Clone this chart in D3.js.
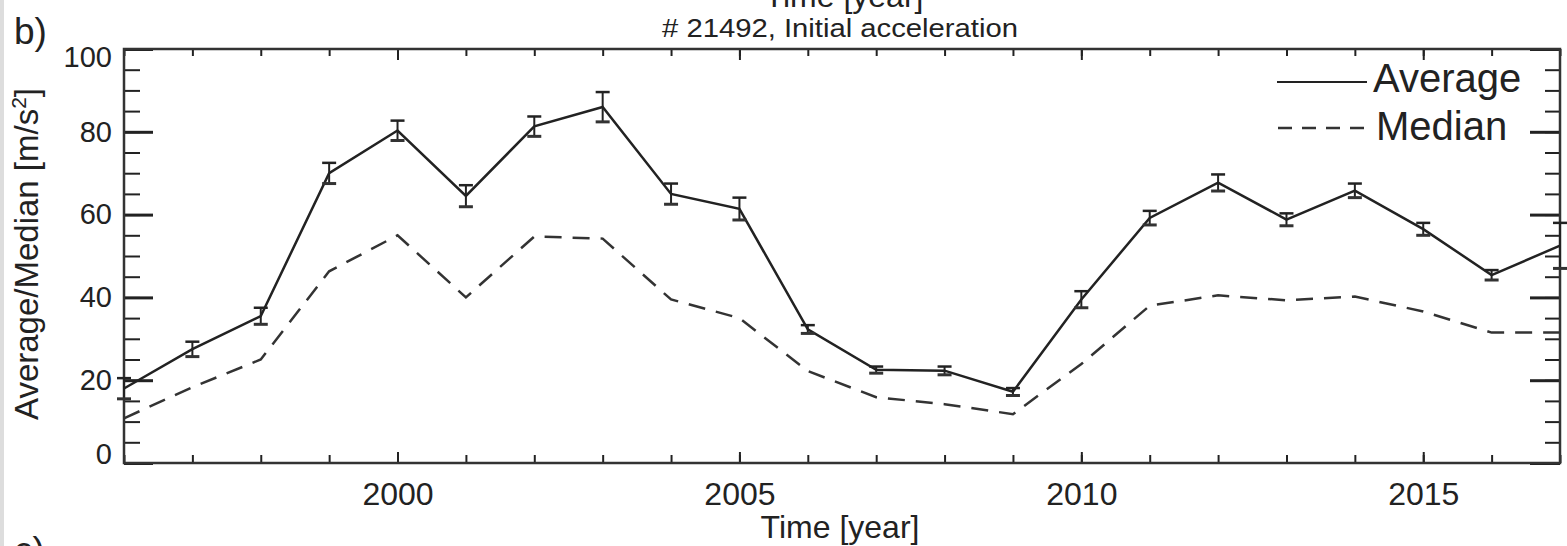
<!DOCTYPE html>
<html><head><meta charset="utf-8">
<script src="https://cdn.jsdelivr.net/npm/d3@7"></script>
<style>
html,body{margin:0;padding:0;background:#fff;}
svg{display:block;}
text{font-family:"Liberation Sans",Arial,Helvetica,sans-serif;fill:#222;}
</style></head>
<body>
<svg id="chart" width="1567" height="546"></svg>
<script>
const years = [1996,1997,1998,1999,2000,2001,2002,2003,2004,2005,2006,2007,2008,2009,2010,2011,2012,2013,2014,2015,2016,2017];
const average = [18,27.5,35.5,70,80.3,64.5,81.3,86,65,61.4,32.3,22.5,22.3,17.2,39.5,59.2,67.7,58.8,65.8,56.5,45.4,52.5];
const averageErr = [2.5,1.8,2,2.5,2.4,2.6,2.4,3.6,2.5,2.7,1,0.8,1,0.9,2,1.7,2,1.5,1.7,1.5,1.2,5.5];
const median = [10.8,18.3,25,46.3,55,40,54.7,54.2,39.5,35,22.2,15.9,14.2,11.8,23.9,38,40.5,39.3,40.2,36.6,31.5,31.5];
const yMajor = [0,20,40,60,80,100];
const yMinor = d3.range(0,101,5);
const xMajor = [2000,2005,2010,2015];
const xMinor = d3.range(1996,2018,1);
const legendLabels = ["Average","Median"];

const svg = d3.select("#chart");
const L=124, R=1560, T=49, B=463;
const x = d3.scaleLinear().domain([1996,2017]).range([L,R]);
const y = d3.scaleLinear().domain([0,100]).range([B,T]);
const ink = "#222";

// left gray stripe
svg.append("rect").attr("x",0).attr("y",0).attr("width",4).attr("height",546).attr("fill","#ddd");

// upper title (clipped by the picture edge, as in the reference)
svg.append("text").attr("x",844).attr("y",7).attr("text-anchor","middle").style("font-size","32px").text("Time [year]");
// title
svg.append("text").attr("x",840).attr("y",37).attr("text-anchor","middle").style("font-size","26px")
  .attr("textLength",356).attr("lengthAdjust","spacingAndGlyphs").text("# 21492, Initial acceleration");
// panel letters
svg.append("text").attr("x",14).attr("y",44).style("font-size","37px").text("b)");
svg.append("text").attr("x",14).attr("y",563).style("font-size","37px").text("c)");

function styleTicks(g, w){ g.select(".domain").remove(); g.selectAll("line").attr("stroke",ink).attr("stroke-width",w); }
// y axis left/right
svg.append("g").attr("transform",`translate(${L},0)`).call(d3.axisLeft(y).tickValues(yMinor).tickSize(-16).tickFormat("")).call(g=>styleTicks(g,2));
svg.append("g").attr("transform",`translate(${R},0)`).call(d3.axisRight(y).tickValues(yMinor).tickSize(-15).tickFormat("")).call(g=>styleTicks(g,2));
svg.append("g").attr("transform",`translate(${R},0)`).call(d3.axisRight(y).tickValues(yMajor).tickSize(-30).tickFormat("")).call(g=>styleTicks(g,3));
const yl = svg.append("g").attr("transform",`translate(${L},0)`).call(d3.axisLeft(y).tickValues(yMajor).tickSize(-29).tickPadding(12));
styleTicks(yl,3);
yl.selectAll("text").style("font-size","29px").attr("fill",ink).style("font-family",'"Liberation Sans",Arial,sans-serif')
  .attr("dy",d=> d===100 ? "0.62em" : d===0 ? "0em" : "0.32em");
// x axis bottom/top
svg.append("g").attr("transform",`translate(0,${B})`).call(d3.axisBottom(x).tickValues(xMinor).tickSize(-8).tickFormat("")).call(g=>styleTicks(g,2));
svg.append("g").attr("transform",`translate(0,${T})`).call(d3.axisTop(x).tickValues(xMinor).tickSize(-7).tickFormat("")).call(g=>styleTicks(g,2));
svg.append("g").attr("transform",`translate(0,${T})`).call(d3.axisTop(x).tickValues(xMajor).tickSize(-11).tickFormat("")).call(g=>styleTicks(g,2));
const xl = svg.append("g").attr("transform",`translate(0,${B})`).call(d3.axisBottom(x).tickValues(xMajor).tickSize(-11).tickPadding(19).tickFormat(d3.format("d")));
styleTicks(xl,2);
xl.selectAll("text").style("font-size","32px").attr("fill",ink).style("font-family",'"Liberation Sans",Arial,sans-serif');
svg.append("rect").attr("x",L).attr("y",T).attr("width",R-L).attr("height",B-T).attr("fill","none").attr("stroke","#333").attr("stroke-width",2.5);

// axis titles
svg.append("text").attr("x",840).attr("y",538).attr("text-anchor","middle").style("font-size","32px").text("Time [year]");
const yt = svg.append("text").attr("transform","translate(38,254) rotate(-90)").attr("text-anchor","middle").style("font-size","33px");
yt.append("tspan").text("Average/Median [m/s");
yt.append("tspan").attr("dy",-12).style("font-size","21px").text("2");
yt.append("tspan").attr("dy",12).text("]");

// data
const data = years.map((yr,i)=>({yr,a:average[i],e:averageErr[i],m:median[i]}));
const lineA = d3.line().x(d=>x(d.yr)).y(d=>y(d.a));
const lineM = d3.line().x(d=>x(d.yr)).y(d=>y(d.m));
svg.append("path").datum(data).attr("d",lineM).attr("fill","none").attr("stroke","#333").attr("stroke-width",2.5).attr("stroke-dasharray","17,11");
svg.append("path").datum(data).attr("d",lineA).attr("fill","none").attr("stroke",ink).attr("stroke-width",2.5);
const eb = svg.append("g").selectAll("g").data(data).join("g");
eb.append("line").attr("x1",d=>x(d.yr)).attr("x2",d=>x(d.yr)).attr("y1",d=>y(d.a-d.e)).attr("y2",d=>y(d.a+d.e)).attr("stroke",ink).attr("stroke-width",2);
eb.append("line").attr("x1",d=>x(d.yr)-7).attr("x2",d=>x(d.yr)+7).attr("y1",d=>y(d.a-d.e)).attr("y2",d=>y(d.a-d.e)).attr("stroke","#333").attr("stroke-width",3);
eb.append("line").attr("x1",d=>x(d.yr)-7).attr("x2",d=>x(d.yr)+7).attr("y1",d=>y(d.a+d.e)).attr("y2",d=>y(d.a+d.e)).attr("stroke",ink).attr("stroke-width",2.5);

// legend
const leg = svg.append("g");
leg.append("line").attr("x1",1277).attr("x2",1367).attr("y1",82).attr("y2",82).attr("stroke",ink).attr("stroke-width",2);
leg.append("line").attr("x1",1278).attr("x2",1365).attr("y1",128).attr("y2",128).attr("stroke","#333").attr("stroke-width",2.5).attr("stroke-dasharray","14,10");
leg.append("text").attr("x",1373).attr("y",92).style("font-size","40px").text(legendLabels[0]);
leg.append("text").attr("x",1376).attr("y",140).style("font-size","40px").text(legendLabels[1]);
</script>
</body></html>
